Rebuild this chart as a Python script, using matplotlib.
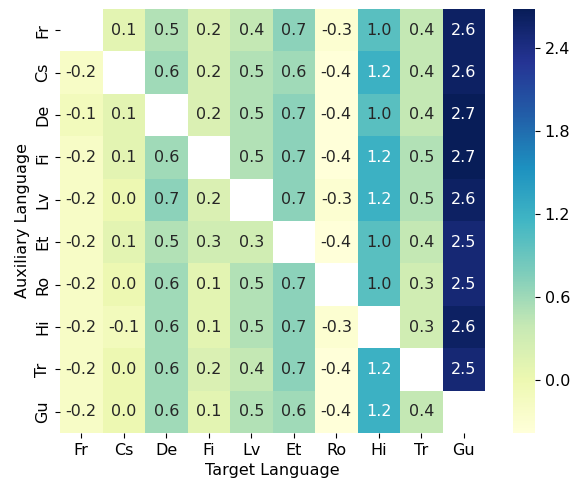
import numpy as np
import matplotlib
matplotlib.use('Agg')
import matplotlib.pyplot as plt
import seaborn as sns

# 언어 목록
languages = ['Fr', 'Cs', 'De', 'Fi', 'Lv', 'Et', 'Ro', 'Hi', 'Tr', 'Gu']

# rows: auxiliary language, cols: target language (nan on diagonal)
nan = np.nan
row_fr = [nan, 0.1, 0.5, 0.2, 0.4, 0.7, -0.3, 1.0, 0.4, 2.6]
row_cs = [-0.2, nan, 0.6, 0.2, 0.5, 0.6, -0.4, 1.2, 0.4, 2.6]
row_de = [-0.1, 0.1, nan, 0.2, 0.5, 0.7, -0.4, 1.0, 0.4, 2.7]
row_fi = [-0.2, 0.1, 0.6, nan, 0.5, 0.7, -0.4, 1.2, 0.5, 2.7]
row_lv = [-0.2, 0.0, 0.7, 0.2, nan, 0.7, -0.3, 1.2, 0.5, 2.6]
row_et = [-0.2, 0.1, 0.5, 0.3, 0.3, nan, -0.4, 1.0, 0.4, 2.5]
row_ro = [-0.2, 0.0, 0.6, 0.1, 0.5, 0.7, nan, 1.0, 0.3, 2.5]
row_hi = [-0.2, -0.1, 0.6, 0.1, 0.5, 0.7, -0.3, nan, 0.3, 2.6]
row_tr = [-0.2, 0.0, 0.6, 0.2, 0.4, 0.7, -0.4, 1.2, nan, 2.5]
row_gu = [-0.2, 0.0, 0.6, 0.1, 0.5, 0.6, -0.4, 1.2, 0.4, nan]

cbar_ticks = [0.0, 0.6, 1.2, 1.8, 2.4]

data = np.array([row_fr, row_cs, row_de, row_fi, row_lv,
                 row_et, row_ro, row_hi, row_tr, row_gu])

FS = 11.5
W, H = 579, 483
fig = plt.figure(figsize=(W / 100, H / 100), dpi=100)
ax = fig.add_axes([60 / W, 1 - 433 / H, 425 / W, 424 / H])
cax = fig.add_axes([513 / W, 1 - 433 / H, 22 / W, 424 / H])

sns.heatmap(data, ax=ax, cbar_ax=cax, cmap='YlGnBu', annot=True, fmt='.1f',
            vmin=-0.38, vmax=2.68, xticklabels=languages, yticklabels=languages,
            annot_kws={'fontsize': FS})

ax.set_xlabel('Target Language', fontsize=FS)
ax.set_ylabel('Auxiliary Language', fontsize=FS)
ax.tick_params(axis='both', labelsize=FS)
ax.set_yticklabels(languages, rotation=90, va='center')

cax.set_yticks(cbar_ticks)
cax.set_yticklabels(['%.1f' % t for t in cbar_ticks])
cax.tick_params(labelsize=FS)

fig.savefig('out.png', dpi=100)
